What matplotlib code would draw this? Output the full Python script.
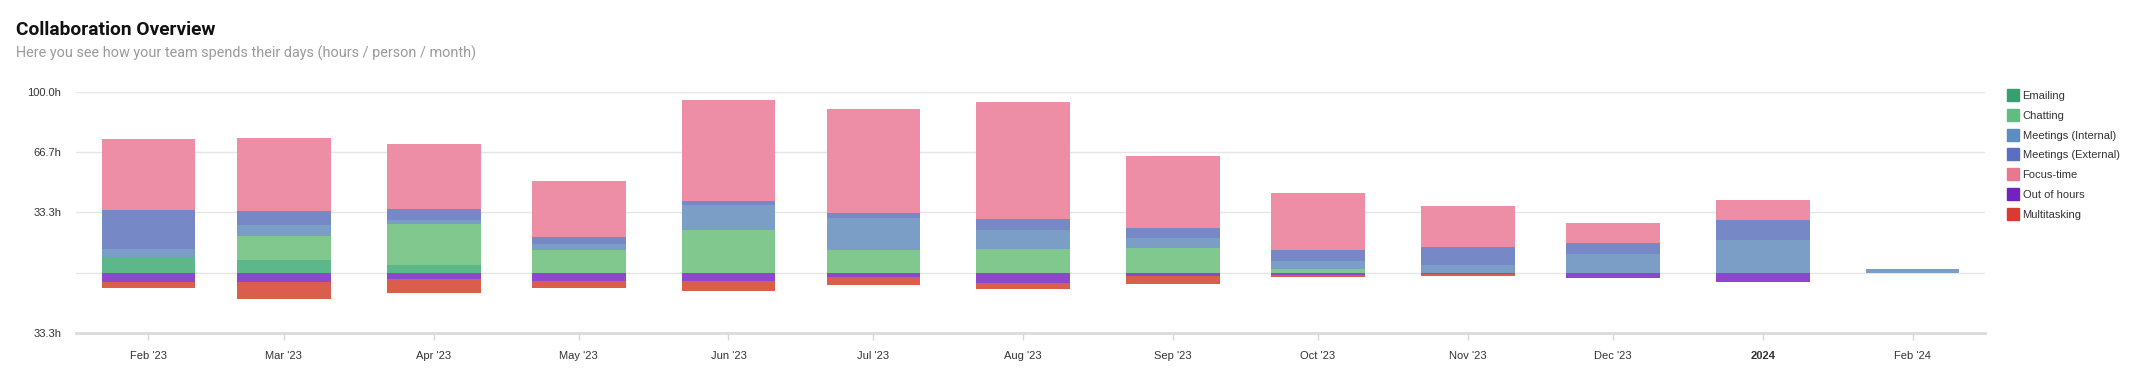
import matplotlib
matplotlib.use("Agg")
import matplotlib.pyplot as plt
import numpy as np
from matplotlib.lines import Line2D

plt.rcParams['font.family'] = ['Liberation Sans', 'DejaVu Sans']

# data (hours / person / month)
months = np.array(['2023-02-01', '2023-03-01', '2023-04-01', '2023-05-01', '2023-06-01',
                   '2023-07-01', '2023-08-01', '2023-09-01', '2023-10-01', '2023-11-01',
                   '2023-12-01', '2024-01-01', '2024-02-01'], dtype='datetime64[D]')
month_labels = ["Feb '23", "Mar '23", "Apr '23", "May '23", "Jun '23", "Jul '23", "Aug '23",
                "Sep '23", "Oct '23", "Nov '23", "Dec '23", "2024", "Feb '24"]

emailing     = [8.7, 7.3, 4.5, 0, 0, 0, 0, 0, 0, 0, 0, 0, 0]
chatting     = [0, 12.9, 22.3, 12.4, 23.9, 12.4, 13.3, 13.6, 2.3, 0, 0, 0, 0]
meetings_int = [4.3, 6.4, 2.2, 3.7, 13.4, 18.1, 10.2, 5.9, 4.0, 4.5, 10.4, 17.9, 2.0]
meetings_ext = [21.5, 7.4, 6.1, 3.7, 2.4, 2.6, 6.5, 5.5, 6.3, 9.8, 6.3, 11.1, 0]
focus_time   = [39.2, 40.2, 36.0, 31.0, 55.7, 57.4, 64.2, 39.7, 31.7, 22.8, 10.6, 11.5, 0]
out_of_hours = [5.2, 5.2, 3.3, 4.3, 4.6, 2.4, 5.5, 1.8, 1.2, 0.6, 2.7, 4.8, 0]
multitasking = [3.3, 9.2, 7.9, 4.2, 5.2, 4.2, 3.5, 4.2, 0.8, 1.2, 0, 0, 0]

series_names = ['Emailing', 'Chatting', 'Meetings (Internal)', 'Meetings (External)',
                'Focus-time', 'Out of hours', 'Multitasking']
legend_colors = ['#36a06e', '#62bb80', '#5b8cc2', '#5b6fc2', '#e8788f', '#7322c0', '#d83c30']
bar_colors = ['#5cb88a', '#80c88e', '#7a9ec6', '#7689c6', '#ee8ea6', '#8c48cc', '#da5e4c']

W, H = 2148, 378
fig = plt.figure(figsize=(W / 100, H / 100), dpi=100)
ax = fig.add_axes([76 / W, 1 - 333.3 / H, (1985 - 76) / W, (333.3 - 91.7) / H])

bar_w = 19.4  # days

# positive stack
pos = [emailing, chatting, meetings_int, meetings_ext, focus_time]
bottom = np.zeros(len(months))
for vals, col in zip(pos, bar_colors[:5]):
    vals = np.array(vals, dtype=float)
    ax.bar(months, vals, width=bar_w, bottom=bottom, color=col, linewidth=0, zorder=3)
    bottom += vals

# negative stack
neg = [out_of_hours, multitasking]
bottom = np.zeros(len(months))
for vals, col in zip(neg, bar_colors[5:]):
    vals = -np.array(vals, dtype=float)
    ax.bar(months, vals, width=bar_w, bottom=bottom, color=col, linewidth=0, zorder=3)
    bottom += vals

ax.set_xlim(months[0] - np.timedelta64(15, 'D'), months[-1] + np.timedelta64(15, 'D'))
ax.set_ylim(-100 / 3, 100)

yt = [-100 / 3, 0, 100 / 3, 200 / 3, 100]
ax.set_yticks(yt)
ax.set_yticklabels(['33.3h', '', '33.3h', '66.7h', '100.0h'])
ax.yaxis.grid(True, color='#e6e6e6', linewidth=1, zorder=0)
ax.tick_params(axis='y', length=0, pad=10.5, labelsize=8, labelcolor='#333333')

ax.set_xticks(months)
ax.set_xticklabels(month_labels)
ax.tick_params(axis='x', length=5, width=1, color='#d8d8d8', pad=8, labelsize=8,
               labelcolor='#333333')
ax.get_xticklabels()[11].set_fontweight('bold')

for s in ['top', 'right', 'left']:
    ax.spines[s].set_visible(False)
ax.spines['bottom'].set_color('#dcdcdc')
ax.spines['bottom'].set_linewidth(2)

fig.text(16 / W, 1 - 30 / H, 'Collaboration Overview', fontsize=13.8, fontweight='bold',
         family='Roboto', color='#111111', va='center', ha='left')
fig.text(16 / W, 1 - 53 / H, 'Here you see how your team spends their days (hours / person / month)',
         fontsize=10.4, family='Roboto', color='#9a9a9a', va='center', ha='left')

handles = [Line2D([], [], marker='s', linestyle='none', markersize=8,
                  markerfacecolor=c, markeredgecolor=c) for c in legend_colors]
fig.legend(handles, series_names, loc='upper left', bbox_to_anchor=(2007 / W, 1 - 91 / H),
           frameon=False, fontsize=8, handlelength=1, handletextpad=0.4, labelspacing=0.88,
           borderpad=0, borderaxespad=0, labelcolor='#333333')

fig.savefig('out.png', dpi=100)
